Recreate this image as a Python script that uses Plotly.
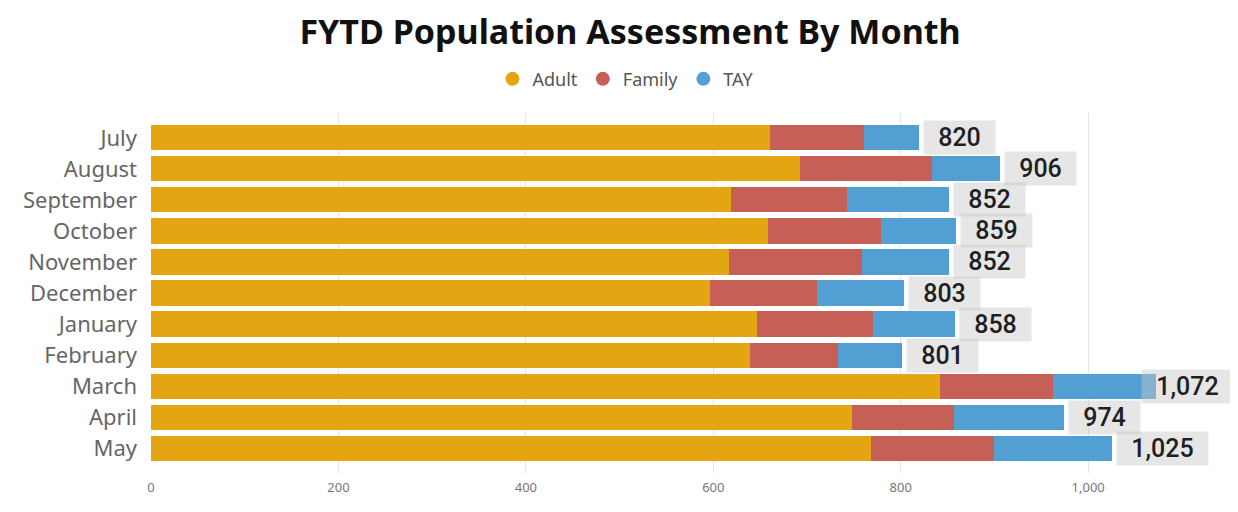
import plotly.graph_objects as go

months = ["July", "August", "September", "October", "November", "December",
          "January", "February", "March", "April", "May"]
adult = [661, 692, 619, 658, 617, 597, 647, 639, 842, 748, 768]
family = [100, 141, 124, 121, 142, 114, 123, 94, 121, 109, 131]
tay = [59, 73, 109, 80, 93, 92, 88, 68, 109, 117, 126]
series_names = ["Adult", "Family", "TAY"]
colors = ["#E3A612", "#C65F55", "#529FD3"]
x_ticks = [0, 200, 400, 600, 800, 1000]

totals = [a + f + t for a, f, t in zip(adult, family, tay)]

FIG_W, FIG_H = 1230, 504          # page body has an 8px margin
M_L, M_R, M_T, M_B = 143, 28, 105, 39
X_MAX = 1130

fig = go.Figure()
for name, vals, col in zip(series_names, [adult, family, tay], colors):
    fig.add_trace(go.Bar(
        y=months, x=vals, name=name, orientation="h",
        marker=dict(color=col, line=dict(width=0)),
        showlegend=False, hoverinfo="x+name",
    ))
    # legend entries with round markers
    fig.add_trace(go.Scatter(
        x=[None], y=[None], mode="markers", name=name,
        marker=dict(color=col, size=14, symbol="circle"),
        showlegend=True,
    ))

ppu = (FIG_W - M_L - M_R) / X_MAX
for m, tot in zip(months, totals):
    txt = f"{tot:,}"
    box_w = 67 if len(txt) <= 3 else 87
    shift = 4
    right_edge = M_L + tot * ppu + shift + box_w + 6
    if right_edge > FIG_W - 4:
        shift -= right_edge - (FIG_W - 4)
    fig.add_annotation(
        x=tot, y=m, xref="x", yref="y", text=txt, showarrow=False,
        xanchor="left", yanchor="middle", xshift=shift,
        font=dict(family="Roboto", size=25, color="#1f1f1f", weight=500),
        bgcolor="rgba(200,200,200,0.45)", borderpad=2, width=box_w,
    )

fig.update_layout(
    width=FIG_W, height=FIG_H,
    paper_bgcolor="white", plot_bgcolor="white",
    barmode="stack", bargap=0.19,
    margin=dict(l=M_L, r=M_R, t=M_T, b=M_B),
    title=dict(
        text="<b>FYTD Population Assessment By Month</b>",
        x=0.5057, xanchor="center", y=0.953, yanchor="middle",
        font=dict(family="Noto Sans", size=34, color="#111111"),
    ),
    legend=dict(
        orientation="h", x=0.4485, xanchor="center", y=1.094, yanchor="middle",
        font=dict(family="Noto Sans", size=18, color="#555555"),
        itemwidth=30, traceorder="normal",
    ),
    xaxis=dict(
        range=[0, X_MAX], tickvals=x_ticks, tickformat=",",
        showgrid=True, gridcolor="#E6E6E6", gridwidth=1,
        zeroline=False, showline=False,
        tickfont=dict(family="Noto Sans", size=13, color="#777777"),
        ticklabelstandoff=5, fixedrange=True,
    ),
    yaxis=dict(
        categoryorder="array", categoryarray=months,
        range=[10.8, -0.8], showgrid=False, zeroline=False, showline=False,
        tickfont=dict(family="Noto Sans", size=22, color="#666666"),
        ticklabelstandoff=13, fixedrange=True,
    ),
    hovermode="closest",
)

fig.write_html("out.html")
